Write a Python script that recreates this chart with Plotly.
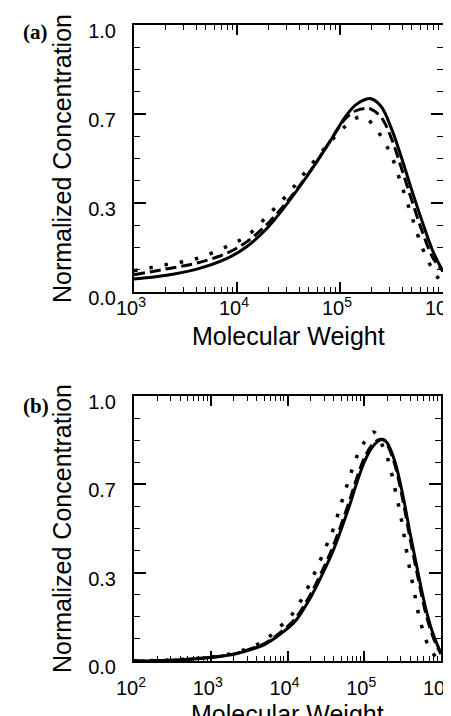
import plotly.graph_objects as go

# ---------------- data ----------------
# Panel (a)
a_mw = [1.0e3, 2.0e3, 4.0e3, 7.9e3, 1.26e4, 2.0e4, 3.16e4, 5.01e4, 7.94e4, 1.12e5,
        1.41e5, 1.78e5, 2.0e5, 2.51e5, 3.16e5, 3.98e5, 5.01e5, 6.31e5, 7.94e5, 1.0e6]
a_solid = [0.049, 0.062, 0.085, 0.125, 0.172, 0.243, 0.338, 0.445, 0.562, 0.655,
           0.700, 0.722, 0.724, 0.695, 0.612, 0.500, 0.378, 0.262, 0.155, 0.077]
a_dashed = [0.065, 0.086, 0.108, 0.145, 0.190, 0.258, 0.345, 0.447, 0.563, 0.648,
            0.678, 0.688, 0.685, 0.655, 0.575, 0.460, 0.340, 0.225, 0.130, 0.078]
a_dot_mw = [1.0e3, 2.0e3, 4.0e3, 7.9e3, 1.26e4, 2.0e4, 3.16e4, 5.01e4, 7.94e4, 1.12e5,
            1.41e5, 1.58e5, 1.78e5, 2.0e5, 2.51e5, 3.16e5, 3.98e5, 5.01e5, 6.31e5, 7.94e5, 1.0e6]
a_dotted = [0.080, 0.102, 0.125, 0.170, 0.212, 0.288, 0.370, 0.467, 0.560, 0.620,
            0.650, 0.656, 0.650, 0.635, 0.583, 0.510, 0.398, 0.280, 0.165, 0.084, 0.027]

# Panel (b)
b_mw = [1.0e2, 3.16e2, 1.0e3, 2.0e3, 3.16e3, 5.01e3, 7.94e3, 1.26e4, 2.0e4, 3.16e4,
        3.98e4, 6.31e4, 7.94e4, 1.0e5, 1.26e5, 1.58e5, 1.78e5, 2.0e5, 2.51e5, 3.16e5,
        3.98e5, 5.01e5, 6.31e5, 7.94e5, 1.0e6]
b_solid = [0.000, 0.003, 0.013, 0.025, 0.041, 0.062, 0.100, 0.150, 0.240, 0.355,
           0.420, 0.580, 0.670, 0.750, 0.805, 0.833, 0.836, 0.822, 0.752, 0.630,
           0.478, 0.335, 0.200, 0.100, 0.030]
b_dashed = [0.000, 0.003, 0.014, 0.027, 0.044, 0.066, 0.106, 0.160, 0.252, 0.370,
            0.437, 0.598, 0.688, 0.765, 0.815, 0.836, 0.834, 0.815, 0.740, 0.612,
            0.458, 0.315, 0.182, 0.088, 0.026]
b_dot_mw = [1.0e2, 3.16e2, 1.0e3, 2.0e3, 3.16e3, 5.01e3, 7.41e3, 1.1e4, 1.58e4, 2.24e4,
            3.16e4, 3.98e4, 5.01e4, 6.31e4, 7.94e4, 1.0e5, 1.32e5, 1.58e5, 2.04e5, 2.51e5,
            3.02e5, 3.72e5, 4.47e5, 5.25e5, 6.92e5, 8.91e5, 1.0e6]
b_dotted = [0.000, 0.004, 0.015, 0.030, 0.049, 0.077, 0.121, 0.169, 0.240, 0.330,
            0.430, 0.500, 0.595, 0.685, 0.769, 0.825, 0.864, 0.835, 0.760, 0.650,
            0.540, 0.382, 0.263, 0.162, 0.055, 0.011, 0.005]

y_tickvals = [0, 1/3, 2/3, 1]
y_ticktext = ["0.0", "0.3", "0.7", "1.0"]
y_minor = [k / 12 for k in range(13)]
a_xtickvals = [1e3, 1e4, 1e5, 1e6]
a_xticktext = ["10<sup>3</sup>", "10<sup>4</sup>", "10<sup>5</sup>", "10<sup>6</sup>"]
b_xtickvals = [1e2, 1e3, 1e4, 1e5, 1e6]
b_xticktext = ["10<sup>2</sup>", "10<sup>3</sup>", "10<sup>4</sup>", "10<sup>5</sup>", "10<sup>6</sup>"]
a_minor = [m * 10 ** e for e in (3, 4, 5) for m in range(2, 10)]
b_minor = [m * 10 ** e for e in (2, 3, 4, 5) for m in range(2, 10)]

# ---------------- figure ----------------
fig = go.Figure()
W = 3
DASH = "11px,5px"
DOT = "3.5px,12px"

fig.add_trace(go.Scatter(x=a_mw, y=a_solid, mode="lines", line=dict(color="black", width=W, shape="spline"), xaxis="x", yaxis="y"))
fig.add_trace(go.Scatter(x=a_mw, y=a_dashed, mode="lines", line=dict(color="black", width=W, dash=DASH, shape="spline"), xaxis="x", yaxis="y"))
fig.add_trace(go.Scatter(x=a_dot_mw, y=a_dotted, mode="lines", line=dict(color="black", width=3.5, dash=DOT, shape="spline"), xaxis="x", yaxis="y"))

fig.add_trace(go.Scatter(x=b_mw, y=b_solid, mode="lines", line=dict(color="black", width=W, shape="spline"), xaxis="x2", yaxis="y2"))
fig.add_trace(go.Scatter(x=b_mw, y=b_dashed, mode="lines", line=dict(color="black", width=W, dash=DASH, shape="spline"), xaxis="x2", yaxis="y2"))
fig.add_trace(go.Scatter(x=b_dot_mw, y=b_dotted, mode="lines", line=dict(color="black", width=3.5, dash=DOT, shape="spline"), xaxis="x2", yaxis="y2"))

FONT = "Liberation Sans, Arial, sans-serif"
tickfont = dict(family=FONT, size=20, color="black")
titlefont = dict(family=FONT, size=25, color="black")

def xaxis_cfg(tv, tt, minor, rng, domain, anchor, lstand):
    return dict(type="log", range=rng, domain=domain, anchor=anchor, automargin=False,
                tickmode="array", tickvals=tv, ticktext=tt,
                ticks="inside", ticklen=10, tickwidth=1.5, tickcolor="black",
                ticklabelstandoff=lstand, ticklabelshift=-3,
                minor=dict(tickmode="array", tickvals=minor, ticks="inside", ticklen=5,
                           tickwidth=1, tickcolor="black", showgrid=False),
                showline=True, linecolor="black", linewidth=2, mirror="ticks",
                showgrid=False, zeroline=False, tickfont=tickfont)

def yaxis_cfg(domain, anchor):
    return dict(range=[0, 1], domain=domain, anchor=anchor, automargin=False,
                tickmode="array", tickvals=y_tickvals, ticktext=y_ticktext,
                ticks="inside", ticklen=12, tickwidth=1.5, tickcolor="black",
                ticklabelshift=6, ticklabelstandoff=12,
                minor=dict(tickmode="array", tickvals=y_minor, ticks="inside", ticklen=6,
                           tickwidth=1, tickcolor="black", showgrid=False),
                showline=True, linecolor="black", linewidth=2, mirror="ticks",
                showgrid=False, zeroline=False, tickfont=tickfont,
                title=dict(text="Normalized Concentration", font=titlefont, standoff=9))

serif = dict(family="Liberation Serif, Times New Roman, serif", size=21, color="black")
fig.update_layout(
    width=451, height=716,
    margin=dict(l=126, r=16, t=17, b=63, autoexpand=False),
    paper_bgcolor="white", plot_bgcolor="white",
    showlegend=False,
    xaxis=xaxis_cfg(a_xtickvals, a_xticktext, a_minor, [3, 6], [0, 1], "y", -3),
    yaxis=yaxis_cfg([0.580, 1.0], "x"),
    xaxis2=xaxis_cfg(b_xtickvals, b_xticktext, b_minor, [2, 6], [0, 0.9935], "y2", 8),
    yaxis2=yaxis_cfg([0, 0.4167], "x2"),
    annotations=[
        dict(text="<b>(a)</b>", x=-0.366, y=1.0, xref="paper", yref="paper", xanchor="left",
             yanchor="middle", yshift=-7, showarrow=False, font=serif),
        dict(text="<b>(b)</b>", x=-0.366, y=0.4167, xref="paper", yref="paper", xanchor="left",
             yanchor="middle", yshift=-10, showarrow=False, font=serif),
        dict(text="Molecular Weight", x=0.5, y=0.511, xref="paper", yref="paper",
             xanchor="center", yanchor="middle", showarrow=False, font=titlefont),
        dict(text="Molecular Weight", x=0.4968, y=-0.0835, xref="paper", yref="paper",
             xanchor="center", yanchor="middle", showarrow=False, font=titlefont),
    ],
)

fig.write_html("out.html")
